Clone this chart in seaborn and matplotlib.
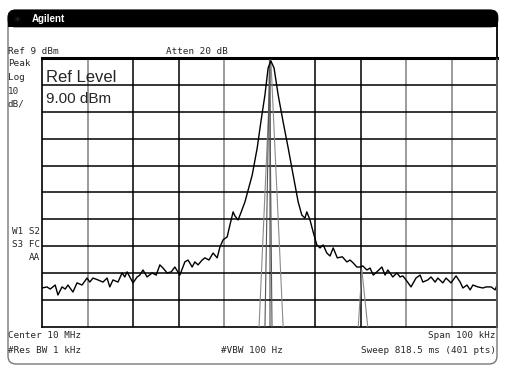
import matplotlib
matplotlib.use("Agg")
import matplotlib.pyplot as plt
import seaborn as sns
import pandas as pd
from matplotlib.patches import FancyBboxPatch, Rectangle

# --- trace data (offset from 10 MHz centre in kHz, level in dBm) ---
trace_offset_khz = [
    -50.0, -48.9, -48.2, -47.1, -46.5, -45.6, -44.9, -44.3, -43.2, -42.3,
    -41.2, -40.1, -39.5, -38.8, -37.7, -36.6, -35.7, -35.1, -34.4, -33.3,
    -32.4, -31.8, -31.3, -30.7, -30.0, -29.1, -28.5, -27.8, -26.9, -25.8,
    -24.9, -24.1, -23.4, -22.5, -21.6, -20.8, -19.7, -18.6, -17.9, -17.0,
    -16.4, -15.7, -14.8, -14.2, -13.3, -12.4, -11.5, -10.9, -10.2, -9.3,
    -8.7, -8.0, -7.6, -6.9, -6.3, -5.4, -3.8, -2.7, -1.9, -1.0,
    -0.3, 0.3, 1.0, 1.9, 3.0, 4.1, 5.2, 6.3, 7.1, 7.8,
    8.2, 8.9, 9.6, 10.4, 11.1, 11.8, 12.6, 13.3, 14.0, 14.9,
    16.0, 17.0, 17.7, 18.4, 19.2, 19.9, 20.5, 21.4, 22.1, 22.8,
    23.6, 24.7, 25.4, 26.0, 27.1, 28.0, 28.7, 29.3, 30.0, 31.1,
    32.2, 33.1, 33.7, 34.8, 35.5, 36.4, 37.0, 38.1, 38.8, 39.9,
    41.0, 41.9, 42.5, 43.4, 44.1, 44.7, 45.8, 46.9, 47.6, 48.7,
    49.6, 50.0,
]
trace_level_dbm = [
    -76.5, -76.1, -76.9, -75.4, -79.1, -76.1, -76.9, -75.4, -78.0, -74.6,
    -75.4, -72.8, -74.3, -72.8, -73.5, -74.3, -72.8, -76.1, -73.5, -74.3,
    -70.9, -72.4, -70.5, -72.4, -74.6, -72.4, -71.7, -69.8, -72.4, -70.9,
    -71.7, -67.9, -69.1, -70.9, -70.5, -68.7, -71.7, -66.8, -66.1, -68.7,
    -66.8, -67.9, -66.1, -65.3, -66.1, -63.5, -65.3, -61.3, -58.6, -57.5,
    -53.1, -48.2, -49.7, -51.2, -48.6, -44.5, -34.5, -24.4, -14.8, -4.7,
    5.3, 7.9, 5.3, -4.7, -14.8, -24.4, -34.5, -44.5, -49.4, -50.5,
    -48.2, -51.2, -55.7, -60.5, -61.6, -60.5, -63.5, -64.6, -61.6, -65.3,
    -64.9, -66.8, -66.1, -67.2, -68.7, -68.7, -68.3, -69.8, -69.1, -71.7,
    -70.5, -68.7, -71.7, -69.8, -72.4, -70.9, -72.4, -72.0, -73.5, -76.1,
    -72.8, -71.7, -74.3, -73.5, -72.4, -74.3, -72.8, -74.6, -72.8, -74.6,
    -72.0, -74.3, -76.5, -75.4, -77.2, -75.4, -76.1, -76.5, -76.1, -76.1,
    -77.2, -75.4,
]

# narrow responses of the other two traces
carrier_offset_khz = [-2.3, 0.3, 3.0]
carrier_level_dbm = [-91.0, 8.3, -91.0]
inner_offset_khz = [-1.0, 0.0, 0.55]
inner_level_dbm = [-91.0, 8.3, -91.0]
spur_offset_khz = [19.5, 20.3, 21.6]
spur_level_dbm = [-91.0, -69.8, -91.0]

ref_level = 9
db_per_div = 10
span_khz = 100

W, H = 506, 371


def fx(x):
    return x / W


def fy(y):
    return 1 - y / H


sns.set_style("white")
plt.rcParams['font.family'] = ['DejaVu Sans Mono', 'DejaVu Sans']

fig = plt.figure(figsize=(W / 100, H / 100), dpi=100)
fig.patch.set_facecolor('white')

# outer instrument frame and header bar (drawn in inch coordinates)
tr = fig.dpi_scale_trans
frame = FancyBboxPatch((8 / 100, (H - 364) / 100), 489 / 100, 354 / 100,
                       boxstyle="round,pad=0,rounding_size=0.08",
                       transform=tr, fc='none', ec='#777777', lw=1.0, zorder=0)
fig.patches.append(frame)
bar = FancyBboxPatch((8 / 100, (H - 27) / 100), 490 / 100, 17 / 100,
                     boxstyle="round,pad=0,rounding_size=0.07",
                     transform=tr, fc='black', ec='black', lw=0.5, zorder=1)
fig.patches.append(bar)
fig.patches.append(Rectangle((8 / 100, (H - 27) / 100), 490 / 100, 8 / 100,
                             transform=tr, fc='black', ec='none', zorder=1))
fig.add_artist(plt.Line2D([fx(497), fx(497)], [fy(27), fy(58)],
                          color='black', lw=1.2))
fig.text(fx(32), fy(19), 'Agilent', color='white', fontsize=7, weight='bold',
         family='Liberation Sans', va='center', ha='left')
fig.text(fx(14), fy(19), '\u2733', color='#333333', fontsize=6,
         family='DejaVu Sans', va='center', ha='left')

ax = fig.add_axes([fx(42), fy(327), (497 - 42) / W, (327 - 58) / H])
ax.set_facecolor('white')

bottom = ref_level - 10 * db_per_div
ax.set_xlim(-span_khz / 2, span_khz / 2)
ax.set_ylim(bottom, ref_level)

# graticule
v_colors = ['#808080', 'black', 'black', '#808080', '#808080',
            'black', 'black', '#808080', '#808080']
for i, c in enumerate(v_colors):
    ax.axvline(-span_khz / 2 + (i + 1) * span_khz / 10, color=c, lw=1.1, zorder=1)
for i in range(1, 10):
    ax.axhline(bottom + i * db_per_div, color='black', lw=1.1, zorder=1)

main = pd.DataFrame({'offset': trace_offset_khz, 'level': trace_level_dbm})
sns.lineplot(data=main, x='offset', y='level', ax=ax, color='black',
             lw=1.0, estimator=None, zorder=4)
for xs, ys, c in [(carrier_offset_khz, carrier_level_dbm, '#8a8a8a'),
                  (inner_offset_khz, inner_level_dbm, '#555555'),
                  (spur_offset_khz, spur_level_dbm, '#8a8a8a')]:
    df = pd.DataFrame({'offset': xs, 'level': ys})
    sns.lineplot(data=df, x='offset', y='level', ax=ax, color=c,
                 lw=0.8, estimator=None, zorder=3)

ax.set_xticks([])
ax.set_yticks([])
ax.set_xlabel('')
ax.set_ylabel('')
for side in ['left', 'right', 'bottom']:
    ax.spines[side].set_color('black')
    ax.spines[side].set_linewidth(1.2)
ax.spines['top'].set_color('black')
ax.spines['top'].set_linewidth(2.2)

# large ref level readout
ax.text(0.009, 0.955, 'Ref Level', transform=ax.transAxes, fontsize=12,
        family='Liberation Sans', va='top', ha='left', zorder=6)
ax.text(0.009, 0.875, '9.00 dBm', transform=ax.transAxes, fontsize=11,
        family='Liberation Sans', va='top', ha='left', zorder=6)

fs = 6.7
fig.text(fx(8), fy(51), f'Ref {ref_level} dBm', fontsize=fs, va='center')
fig.text(fx(166), fy(51), 'Atten 20 dB', fontsize=fs, va='center')
for label, y in [('Peak', 64), ('Log', 78), ('10', 91), ('dB/', 104)]:
    fig.text(fx(8), fy(y), label, fontsize=fs, va='center')
for label, y in [('W1 S2', 231), ('S3 FC', 244.5), ('AA', 258)]:
    fig.text(fx(40), fy(y), label, fontsize=fs, va='center', ha='right')
fig.text(fx(8), fy(336), 'Center 10 MHz', fontsize=fs, va='center')
fig.text(fx(496), fy(336), 'Span 100 kHz', fontsize=fs, va='center', ha='right')
fig.text(fx(8), fy(350.5), '#Res BW 1 kHz', fontsize=fs, va='center')
fig.text(fx(252), fy(350.5), '#VBW 100 Hz', fontsize=fs, va='center', ha='center')
fig.text(fx(496), fy(350.5), 'Sweep 818.5 ms (401 pts)', fontsize=fs,
         va='center', ha='right')

fig.savefig('out.png', dpi=100, facecolor='white')
